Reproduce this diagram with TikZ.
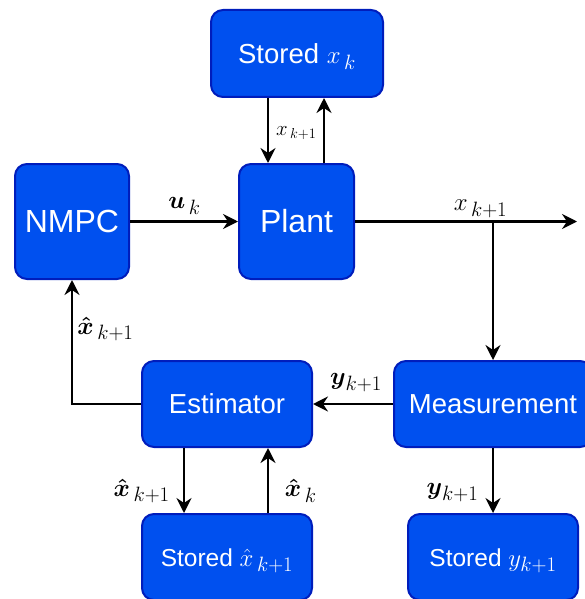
\documentclass[tikz,border=0pt]{standalone}
\usepackage{amsmath}
\usepackage{fontspec}
\setmainfont{Liberation Sans}
\usetikzlibrary{arrows.meta,calc}

% larger subscripts at the label sizes
\DeclareMathSizes{25}{25}{20}{15}
\DeclareMathSizes{29}{29}{22}{16}

\definecolor{boxfill}{HTML}{0050EF}
\definecolor{boxline}{HTML}{001DBC}

\tikzset{
  block/.style={draw=boxline, fill=boxfill, line width=2pt, rounded corners=12pt,
                text=white, inner sep=0pt, align=center},
  big/.style={font=\fontsize{32}{36}\selectfont},
  mid/.style={font=\fontsize{27.5}{31}\selectfont},
  small/.style={font=\fontsize{24.5}{28}\selectfont},
  arr/.style={line width=2.4pt, -{Stealth[length=15pt,width=15pt,inset=5pt]}},
  lbl/.style={inner sep=0pt, font=\fontsize{25}{28}\selectfont},
}
% math set a little larger than the surrounding text
\newcommand{\mathat}[2]{{\fontsize{#1}{#1}\selectfont$#2$}}

\begin{document}
\begin{tikzpicture}[x=1pt,y=-1pt]
\useasboundingbox (0,0) rectangle (585,599);

% blocks
\node[block, mid, minimum width=172pt, minimum height=87pt, text height=20pt, text depth=0pt] (sxk) at (297,53.5) {Stored \mathat{31}{x_{\,k}}};
\node[block, big, minimum width=115pt, minimum height=115pt] (plant) at (296.5,221.5) {Plant};
\node[block, big, minimum width=114pt, minimum height=115pt] (nmpc) at (72,221.5) {NMPC};
\node[block, mid, minimum width=170pt, minimum height=86pt] (est) at (227,404) {Estimator};
\node[block, mid, minimum width=198pt, minimum height=86pt] (meas) at (493,404) {Measurement};
\node[block, small, minimum width=170pt, minimum height=86pt, text height=18pt, text depth=0pt] (sxh) at (227,557) {Stored \mathat{25}{\hat{x}_{\,k+1}}};
\node[block, small, minimum width=170pt, minimum height=86pt, text height=18pt, text depth=0pt] (sy) at (493,557) {Stored \mathat{25}{y_{k+1}}};

% free end of the plant output and its branch point
\coordinate (out) at (577,221.5);
\coordinate (br) at (meas.north |- plant.east);

% connectors
\draw[arr] ([xshift=-29pt]sxk.south) -- ([xshift=-29pt]sxk.south |- plant.north);
\draw[arr] ([xshift=27.5pt]plant.north) -- ([xshift=27.5pt]plant.north |- sxk.south);
\draw[arr] (nmpc.east) -- (plant.west);
\draw[arr] (plant.east) -- (out);
\draw[arr] (br) -- (meas.north);
\draw[arr] (meas.west) -- (est.east);
\draw[arr] (est.west) -| (nmpc.south);
\draw[arr] ([xshift=-43pt]est.south) -- ([xshift=-43pt]est.south |- sxh.north);
\draw[arr] ([xshift=41pt]sxh.north) -- ([xshift=41pt]sxh.north |- est.south);
\draw[arr] (meas.south) -- (sy.north);

% connector labels
\node[lbl, font=\fontsize{22}{24}\selectfont, anchor=west] (lxa) at (276,133) {$x_{\,k+1}$};
\node[lbl] (lu) at (184.5,206) {$\boldsymbol{u}_{\,k}$};
\node[lbl, font=\fontsize{29}{31}\selectfont] (lxb) at (480.5,209) {$x_{\,k+1}$};
\node[lbl] (lxh) at (105.5,329) {$\boldsymbol{\hat{x}}_{\,k+1}$};
\node[lbl] (ly) at (356,382.5) {$\boldsymbol{y}_{k+1}$};
\node[lbl] (ly2) at (452.5,492.5) {$\boldsymbol{y}_{k+1}$};
\node[lbl] (lxh2) at (141.7,491) {$\boldsymbol{\hat{x}}_{\,k+1}$};
\node[lbl] (lxk) at (300.8,491) {$\boldsymbol{\hat{x}}_{\,k}$};
\end{tikzpicture}
\end{document}
